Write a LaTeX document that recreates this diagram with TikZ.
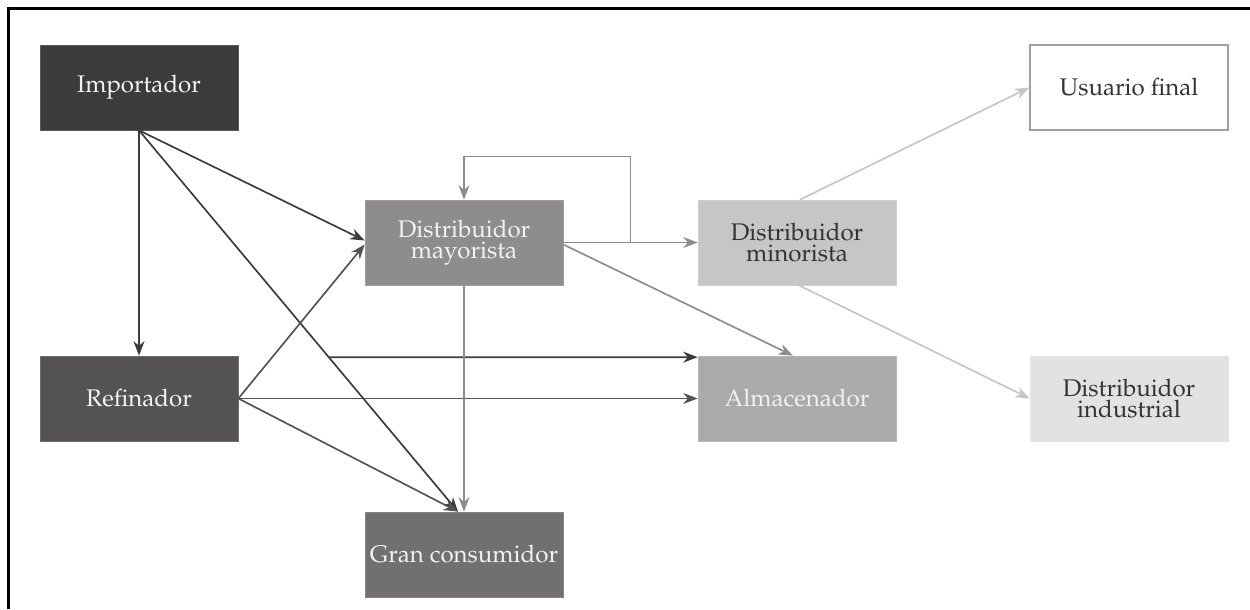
\documentclass[tikz,border=0pt]{standalone}
\usepackage[T1]{fontenc}
\usepackage{mathpazo}
\usetikzlibrary{arrows.meta,calc}

\definecolor{impgray}{HTML}{3D3B3A}
\definecolor{refgray}{HTML}{555352}
\definecolor{maygray}{HTML}{8E8C8D}
\definecolor{gcgray}{HTML}{716F70}
\definecolor{mingray}{HTML}{C6C6C6}
\definecolor{almgray}{HTML}{AAAAAA}
\definecolor{indgray}{HTML}{E2E2E2}
\definecolor{usrline}{HTML}{A0A0A0}
\definecolor{txtlight}{HTML}{F2F2F2}
\definecolor{txtdark}{HTML}{333333}

\tikzset{
  actor/.style={rectangle, minimum width=3.96cm, minimum height=1.7cm,
    align=center, inner sep=0pt, line width=0.4pt,
    font=\fontsize{13.7}{12.3}\selectfont},
  darkactor/.style={actor, fill=#1, draw=#1!85!white, text=txtlight},
  lightactor/.style={actor, fill=#1, draw=#1!85!white, text=txtdark}
}

\begin{document}
\begin{tikzpicture}[x=0.02cm, y=-0.02cm, >={Stealth[length=2.9mm,width=2.2mm]},
    line width=0.95pt]
  \useasboundingbox (0,0) rectangle (1250,609);
  % Frame (only top and left edges show)
  \draw[line width=2.2pt] (1250,8.5) -- (8.5,8.5) -- (8.5,609);

  % Actors of the chain
  \node[darkactor=impgray] (importador) at (139,87.5) {Importador};
  \node[darkactor=refgray] (refinador) at (139,398.5) {Refinador};
  \node[darkactor=maygray] (mayorista) at (464,242.5) {Distribuidor\\mayorista};
  \node[darkactor=gcgray] (gran) at (464,554.5) {Gran consumidor};
  \node[lightactor=mingray] (minorista) at (797,242.5) {Distribuidor\\minorista};
  \node[darkactor=almgray] (almacenador) at (797,398.5) {Almacenador};
  \node[actor, draw=usrline, line width=0.9pt, fill=white, text=txtdark]
    (usuario) at (1129,87.5) {Usuario final};
  \node[lightactor=indgray] (industrial) at (1129,398.5) {Distribuidor\\industrial};

  % Helper points
  \coordinate (impout) at (importador.south);
  \coordinate (gcin) at ($(gran.north)+(-6,0)$);
  \coordinate (almin) at ($(almacenador.north west)+(0,1.5)$);
  \coordinate (almleft) at (almin -| importador.south);
  \coordinate (branch) at (intersection of impout--gcin and almin--almleft);
  \coordinate (loopfoot) at ($(mayorista.east)!0.5!(minorista.west)$);

  % From the importer
  \draw[->, impgray] (impout) -- (refinador.north);
  \draw[->, impgray] (impout) -- ($(mayorista.west)+(0,-2)$);
  \draw[->, impgray] (impout) -- (gcin);
  \draw[->, impgray] (branch) -- (almin);

  % From the refiner
  \draw[->, refgray] (refinador.east) -- ($(mayorista.west)+(0,2)$);
  \draw[->, refgray] (refinador.east) -- (almacenador.west);
  \draw[->, refgray] (refinador.east) -- (gcin);

  % From the wholesaler
  \draw[->, maygray] (mayorista.south) -- (gran.north);
  \draw[->, maygray] (mayorista.east) -- (minorista.west);
  \draw[->, maygray] (loopfoot) -- ++(0,-86) -| (mayorista.north);
  \draw[->, maygray] ($(mayorista.east)+(0,2)$) -- ($(almacenador.north)+(-4,0)$);

  % From the retailer
  \draw[->, mingray] ($(minorista.north)+(3,0)$) -- (usuario.west);
  \draw[->, mingray] ($(minorista.south)+(2,0)$) -- (industrial.west);
\end{tikzpicture}
\end{document}
